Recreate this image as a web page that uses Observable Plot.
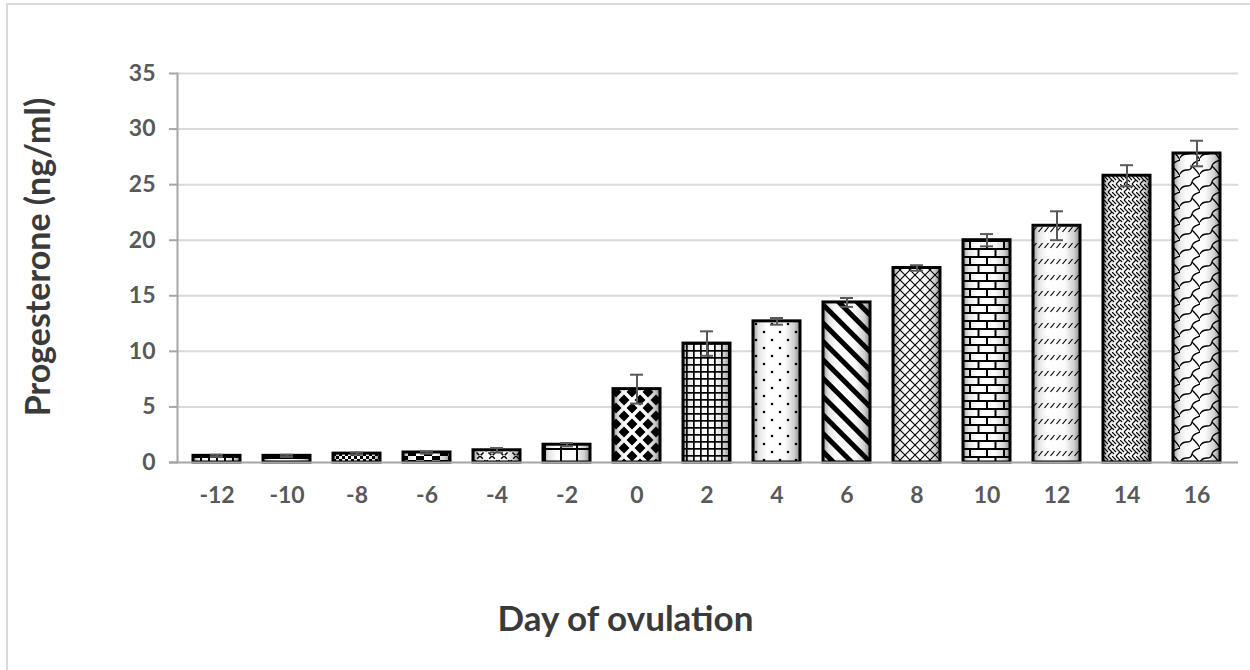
<!DOCTYPE html>
<html><head><meta charset="utf-8">
<script src="https://cdn.jsdelivr.net/npm/d3@7"></script>
<script src="https://cdn.jsdelivr.net/npm/@observablehq/plot@0.6"></script>
<style>
body{margin:0;background:#fff;font-family:Lato,sans-serif}
#wrap{position:relative;width:1250px;height:670px;overflow:hidden;background:#fff}
#border{position:absolute;left:6px;top:3px;width:1300px;height:700px;border:2px solid #d9d9d9;box-sizing:border-box}
#chart{position:absolute;left:0;top:0}
</style></head><body>
<div id="wrap"><div id="border"></div><div id="chart"></div></div>
<script>
// ---- data ----
const days = ["-12","-10","-8","-6","-4","-2","0","2","4","6","8","10","12","14","16"];
const progesterone = [0.6,0.6,0.8,0.9,1.1,1.6,6.6,10.7,12.7,14.4,17.5,20.0,21.3,25.8,27.8];
const sem = [0.1,0.1,0.1,0.1,0.2,0.15,1.3,1.1,0.3,0.4,0.25,0.55,1.3,0.95,1.15];
const yTicks = [0,5,10,15,20,25,30,35];
const xTitle = "Day of ovulation";
const yTitle = "Progesterone (ng/ml)";

// pattern (style) per bar, in order
const patternIds = ["pVdash","pHline","pSmallCheck","pBigCheck","pTrellis","pBigGrid","pDiamond","pSmallGrid","pDots","pWideDiag","pDiagCross","pBrick","pDashUp","pWeave","pShingle"];

const data = days.map((d,i)=>({day:d, value:progesterone[i], err:sem[i], pat:patternIds[i]}));

const plot = Plot.plot({
  width: 1250, height: 670,
  marginLeft: 177, marginRight: 15, marginTop: 73, marginBottom: 208,
  style: {fontFamily: "Lato, sans-serif", background: "transparent"},
  x: {domain: days, paddingInner: 0.33, paddingOuter: 0.165, label: null},
  y: {domain: [0,35], label: null},
  color: {type: "identity"},
  marks: [
    Plot.ruleY(yTicks.filter(t=>t>0), {stroke:"#d9d9d9", strokeWidth:2, insetRight:-3}),
    Plot.barY(data, {x:"day", y:"value", fill:"url(#bevel)"}),
    Plot.barY(data, {x:"day", y:"value", fill: d=>`url(#${d.pat})`, stroke:"#000", strokeWidth:3}),
    Plot.ruleX(data, {x:"day", y1:d=>d.value-d.err, y2:d=>d.value+d.err, stroke:"#595959", strokeWidth:2}),
    Plot.tickY(data, {x:"day", y:d=>d.value+d.err, insetLeft:17, insetRight:17, stroke:"#595959", strokeWidth:2}),
    Plot.tickY(data, {x:"day", y:d=>d.value-d.err, insetLeft:17, insetRight:17, stroke:"#595959", strokeWidth:2}),
    Plot.ruleY([0], {stroke:"#a6a6a6", strokeWidth:2, insetLeft:-8, insetRight:-3}),
    Plot.frame({anchor:"left", stroke:"#a6a6a6", strokeWidth:2}),
    Plot.axisY({ticks: yTicks, tickSize: 8, tickPadding: 14, stroke:"#a6a6a6", strokeWidth:2, fill:"#595959", fontSize:23, fontWeight:"bold"}),
    Plot.axisX({tickSize: 0, tickPadding: 24, fill:"#595959", fontSize:23, fontWeight:"bold"}),
    Plot.text([yTitle], {frameAnchor:"left", textAnchor:"middle", lineAnchor:"middle", rotate:-90, dx:-138, dy:-11, fontSize:34, fontWeight:"bold", fill:"#3a3a3a"}),
    Plot.text([xTitle], {frameAnchor:"bottom", textAnchor:"middle", lineAnchor:"middle", dx:-81, dy:157, fontSize:35, fontWeight:"bold", fill:"#3a3a3a"})
  ]
});

d3.select(plot).insert("defs", ":first-child").html(`
<linearGradient id="bevel" x1="0" y1="0" x2="1" y2="0">
  <stop offset="0" stop-color="#9a9a9a"/>
  <stop offset="0.12" stop-color="#e4e4e4"/>
  <stop offset="0.3" stop-color="#ffffff"/>
  <stop offset="0.68" stop-color="#fbfbfb"/>
  <stop offset="0.88" stop-color="#cfcfcf"/>
  <stop offset="1" stop-color="#888888"/>
</linearGradient>
<pattern id="pVdash" width="8" height="6" patternUnits="userSpaceOnUse"><rect width="8" height="2" fill="#000"/><rect width="2" height="6" fill="#000"/></pattern>
<pattern id="pHline" width="8" height="6" patternUnits="userSpaceOnUse"><rect width="8" height="3" fill="#000"/></pattern>
<pattern id="pSmallCheck" width="6" height="6" patternUnits="userSpaceOnUse"><rect width="3" height="3" fill="#000"/><rect x="3" y="3" width="3" height="3" fill="#000"/></pattern>
<pattern id="pBigCheck" width="16" height="8" patternUnits="userSpaceOnUse"><rect width="8" height="4" fill="#000"/><rect x="8" y="4" width="8" height="4" fill="#000"/></pattern>
<pattern id="pTrellis" width="12" height="12" patternUnits="userSpaceOnUse"><path d="M0,0 L12,12 M12,0 L0,12" stroke="#000" stroke-width="1.5" stroke-dasharray="4,2" fill="none"/></pattern>
<pattern id="pBigGrid" width="16" height="16" patternUnits="userSpaceOnUse"><rect width="16" height="2" fill="#000"/><rect width="2" height="16" fill="#000"/></pattern>
<pattern id="pDiamond" width="16" height="16" patternUnits="userSpaceOnUse">
  <polygon points="8,2.5 13.5,8 8,13.5 2.5,8" fill="#000"/>
  <polygon points="0,-5.5 5.5,0 0,5.5 -5.5,0" fill="#000"/><polygon points="16,-5.5 21.5,0 16,5.5 10.5,0" fill="#000"/>
  <polygon points="0,10.5 5.5,16 0,21.5 -5.5,16" fill="#000"/><polygon points="16,10.5 21.5,16 16,21.5 10.5,16" fill="#000"/>
</pattern>
<pattern id="pSmallGrid" width="7" height="7" patternUnits="userSpaceOnUse"><rect width="7" height="1.7" fill="#000"/><rect width="1.7" height="7" fill="#000"/></pattern>
<pattern id="pDots" width="16" height="16" patternUnits="userSpaceOnUse"><circle cx="4" cy="4" r="1.3" fill="#000"/><circle cx="12" cy="12" r="1.3" fill="#000"/></pattern>
<pattern id="pWideDiag" width="13" height="13" patternUnits="userSpaceOnUse" patternTransform="rotate(-45)"><rect width="5" height="13" fill="#000"/></pattern>
<pattern id="pDiagCross" width="10" height="10" patternUnits="userSpaceOnUse"><path d="M0,0 L10,10 M10,0 L0,10" stroke="#000" stroke-width="1.1" fill="none"/></pattern>
<pattern id="pBrick" width="17" height="16" patternUnits="userSpaceOnUse"><path d="M0,1 H17 M0,9 H17 M1,1 V9 M9.5,9 V16" stroke="#000" stroke-width="2" fill="none"/></pattern>
<pattern id="pDashUp" width="6" height="16" patternUnits="userSpaceOnUse"><path d="M0.5,8 L4.5,3" stroke="#000" stroke-width="1.2" fill="none"/></pattern>
<pattern id="pWeave" width="8" height="8" patternUnits="userSpaceOnUse"><path d="M0,0 L4,4 M4,8 L8,4 M4,0 L8,4 M0,4 L2,6" stroke="#000" stroke-width="1.2" fill="none"/></pattern>
<pattern id="pShingle" width="20" height="16" patternUnits="userSpaceOnUse"><path d="M0,14 C4,6 10,14 12,6 C13,2 16,2 20,0 M12,6 C15,9 18,12 20,16" stroke="#000" stroke-width="1.3" fill="none"/></pattern>
`);

document.getElementById("chart").appendChild(plot);
</script>
</body></html>
